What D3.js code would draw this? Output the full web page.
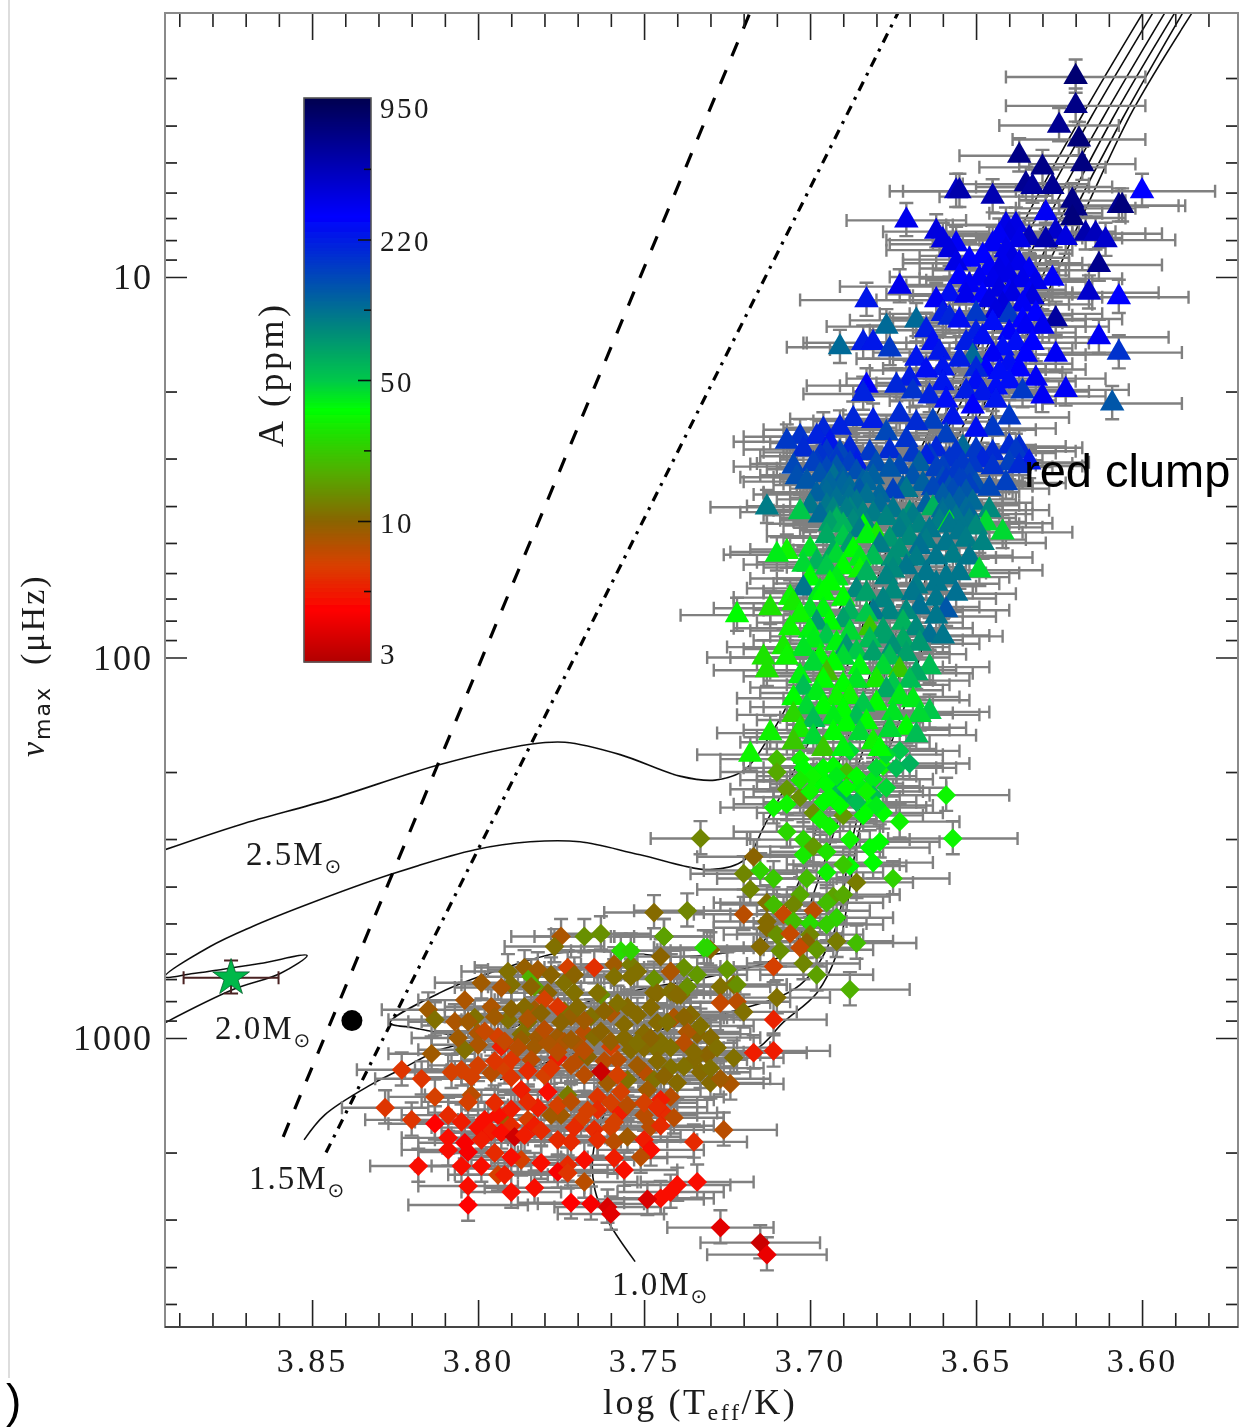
<!DOCTYPE html>
<html><head><meta charset="utf-8">
<script src="https://cdn.jsdelivr.net/npm/d3@7"></script>
<style>html,body{margin:0;padding:0;background:#fff;overflow:hidden}svg{display:block}</style>
</head><body>
<svg id="c" width="1241" height="1428"></svg>
<script>
// ---- axis values
const xMajor=[3.85,3.80,3.75,3.70,3.65,3.60];
const xMinor=[3.89,3.88,3.87,3.86,3.84,3.83,3.82,3.81,3.79,3.78,3.77,3.76,3.74,3.73,3.72,3.71,3.69,3.68,3.67,3.66,3.64,3.63,3.62,3.61,3.59,3.58];
const yMajor=[10,100,1000];
const yMinor=[3,4,5,6,7,8,9,20,30,40,50,60,70,80,90,200,300,400,500,600,700,800,900,2000,3000,4000,5000];
const ampTicks=[3,10,50,220,950];
const ampMinorPos=[5.5,22.4,105,457];
const ampStops=[3,4.7,6.9,10,17.9,35.6,50,84.5,129,280,950];
const ampColors=["#b00000","#ff0000","#d84000","#8a6400","#50b000","#00ff00","#00c84a","#008a7a","#0058a8","#0000ff","#000050"];
// ---- stars: [log Teff, numax, amplitude, error in log Teff]
const upperGiants=[
[3.620,2.98,750,.021],[3.620,3.55,650,.021],[3.625,4.0,600,.018],[3.619,4.35,720,.020],[3.637,4.8,650,.018],[3.630,5.15,650,.019],[3.618,5.05,680,.016],
[3.635,5.7,600,.019],[3.633,5.8,560,.017],[3.656,5.95,420,.020],[3.655,5.95,500,.017],[3.645,6.15,480,.016],[3.627,5.8,600,.018],[3.600,5.95,280,.022],
[3.621,6.3,650,.016],[3.620,6.6,650,.018],[3.621,7,700,.016],[3.607,6.5,600,.018],[3.606,6.5,700,.019],[3.671,7.1,320,.018],[3.629,6.8,300,.017],
[3.662,7.6,350,.016],[3.660,8,350,.017],[3.658,8.5,350,.019],[3.656,9.2,330,.016],[3.641,7.3,330,.018],[3.643,7.8,300,.020],[3.645,8.2,300,.018],[3.640,7.7,350,.019],
[3.637,8,330,.017],[3.638,7.3,340,.019],[3.634,7.9,450,.016],[3.629,8,500,.020],[3.626,7.6,400,.018],[3.623,7.9,350,.017],[3.617,7.7,500,.018],[3.614,7.7,450,.020],[3.611,8,400,.021],
[3.613,9.3,620,.019],[3.649,10.1,300,.018],[3.641,8.5,320,.020],[3.639,8.9,340,.017],[3.637,9.2,320,.019],[3.634,9.6,300,.018],[3.643,9.6,330,.020],[3.640,9.9,330,.018],[3.636,10.2,320,.019],[3.632,10.3,320,.017],
[3.643,10.8,340,.020],[3.639,11.1,340,.018],[3.634,11.1,300,.019],[3.646,11.5,340,.018],[3.642,11.8,360,.020],[3.627,10.1,290,.021],[3.616,11,400,.021],[3.607,11.3,280,.021],[3.673,10.6,320,.018],
[3.683,11.5,230,.020],[3.662,11.5,300,.018],[3.658,11.1,250,.019],[3.653,11.2,320,.017],[3.660,12.5,220,.019],[3.658,12.8,200,.018],[3.650,12.5,170,.020],[3.644,12.3,350,.018],[3.640,12.6,170,.019],
[3.633,11.3,350,.021],[3.626,12.9,550,.020],[3.635,13.5,300,.018],[3.613,14.4,300,.021],[3.607,15.8,180,.019],[3.609,21.5,130,.021],[3.626,16,300,.019],[3.635,16,280,.018],[3.633,14.9,280,.017],
[3.677,13.5,110,.018],[3.668,13,110,.020],[3.691,15.3,110,.016],[3.684,14.9,220,.018],[3.681,14.9,230,.020],[3.676,15.5,170,.018],[3.665,13.8,220,.017],[3.663,14.9,250,.019],[3.668,16.4,240,.018],[3.665,17.6,250,.017],
[3.661,15.8,230,.020],[3.660,17.4,240,.018],[3.651,16.2,110,.019],[3.645,16,300,.017],[3.642,15.4,260,.021],[3.638,14.9,260,.018],[3.640,16.9,250,.019],[3.653,14.9,220,.018],[3.648,14.4,250,.020],[3.647,17.5,280,.018],
[3.683,19.3,270,.018],[3.623,19.8,300,.019],[3.630,20.6,300,.019]];
const upperFill=[
[3.656,8.2,300,.020],[3.655,10,280,.021],[3.652,9,280,.020],[3.648,8.8,280,.019],[3.646,9.5,290,.021],[3.642,9.2,320,.020],[3.652,10.5,300,.019],[3.648,11.2,280,.021],[3.645,10.2,320,.020],[3.640,11,300,.019],[3.636,11.8,300,.021],[3.632,12.5,280,.020],
[3.655,13,250,.020],[3.650,14,220,.019],[3.645,13.2,260,.021],[3.640,14,290,.020],[3.636,13,280,.019],[3.630,13.5,310,.020],[3.655,16.5,220,.020],[3.650,17.5,200,.021],[3.643,17.8,260,.019],[3.637,17.5,280,.020],[3.632,18.5,300,.021],[3.670,18.5,220,.019],[3.660,19,240,.020],[3.650,18.9,250,.019],[3.640,18.8,260,.020]];
const clumpGiants=[
[3.707,27.1,170,.016],[3.703,26.3,180,.017],[3.696,25.2,200,.018],[3.698,26.3,210,.016],[3.694,27.3,230,.018],[3.691,24.9,210,.017],[3.687,23.6,200,.019],[3.684,20.3,210,.018],[3.681,23.9,220,.018],[3.674,19.3,200,.017],
[3.669,20,180,.018],[3.664,20.6,210,.019],[3.659,21.1,260,.017],[3.653,20,220,.018],[3.651,21.9,270,.019],[3.648,20.2,230,.018],[3.644,19.5,260,.019],[3.644,21.1,240,.018],[3.636,20,170,.020],
[3.673,23,190,.017],[3.668,24.2,190,.018],[3.663,24,160,.019],[3.657,23.4,230,.017],[3.650,25.2,250,.018],[3.645,25,170,.019],[3.640,23.4,170,.018],[3.640,27.9,190,.017],[3.637,28.1,190,.019],[3.634,30.7,230,.018],[3.640,30.9,160,.019],
[3.648,30.3,200,.018],[3.654,28.1,110,.017],[3.659,26.1,160,.018],[3.665,29.7,210,.017],[3.671,26.8,180,.018],[3.677,25.7,150,.019],[3.686,30.9,220,.018],[3.691,29,150,.017],[3.698,30.9,170,.018],[3.704,33.6,140,.017],[3.693,33.6,105,.018],
[3.681,33.6,120,.019],[3.676,32.1,130,.018],[3.669,33.6,135,.018],[3.659,34.3,170,.020],[3.655,34.3,160,.019],[3.663,35.9,150,.018],[3.675,36.6,160,.017],[3.685,36.6,130,.018],[3.698,37.3,120,.019],
[3.688,41,90,.018],[3.679,39.8,110,.017],[3.671,36.3,100,.018],[3.665,39.8,120,.019],[3.655,39.8,125,.018],[3.697,42.3,110,.017],[3.685,46.3,95,.018],[3.673,46.3,95,.019],[3.664,46.3,100,.018],[3.679,50.7,95,.017],[3.688,50.7,75,.018]];
const clumpFill=[
[3.702,28.4,190,.018],[3.695,28.9,170,.019],[3.688,28.2,200,.018],[3.682,29,170,.017],[3.676,28.7,190,.019],[3.669,29.3,170,.018],[3.662,28.4,200,.018],[3.656,29,180,.019],[3.650,28.5,170,.018],[3.645,29,190,.019],[3.638,28.7,170,.018],
[3.705,31.5,150,.018],[3.699,31,160,.019],[3.692,31.8,130,.018],[3.680,31,140,.017],[3.673,31.6,150,.019],[3.667,31,120,.018],[3.660,31.8,160,.018],[3.651,31.2,170,.019],[3.645,31.6,180,.018],[3.637,31.4,190,.019],
[3.701,34.5,130,.019],[3.690,35,115,.018],[3.683,34.8,115,.018],[3.672,36,125,.017],[3.666,35,120,.019],[3.657,36.6,145,.018],[3.652,35.5,160,.019],[3.646,36,150,.018],[3.641,34.8,160,.018],[3.695,37,110,.019],[3.688,38,105,.018],[3.679,37.5,115,.018],
[3.700,40,100,.019],[3.693,41,90,.018],[3.686,40,100,.017],[3.681,42,95,.018],[3.675,41,100,.019],[3.669,42.5,95,.018],[3.660,41,110,.018],[3.652,42,115,.019],[3.646,41,85,.018],[3.694,44.5,70,.019],[3.690,45,60,.018],[3.672,44,90,.018],[3.667,45,90,.017],[3.661,44,95,.019],[3.655,44.5,100,.018],
[3.695,48,65,.018],[3.690,48.5,50,.018],[3.683,48,38,.019],[3.676,49,75,.017],[3.670,48.5,85,.018],[3.665,49.5,95,.019],[3.659,50,100,.018],[3.653,49,95,.018],[3.648,50,90,.019],[3.700,52,42,.018],[3.692,54,45,.018],[3.685,55,40,.017],[3.675,55,80,.019],[3.668,55,95,.018],[3.657,54,95,.018],
[3.702,57,45,.018],[3.695,58,50,.019],[3.692,62,40,.018],[3.683,60,60,.018],[3.675,59,85,.017],[3.668,65,95,.018],[3.662,64,100,.019],[3.655,60,100,.018],[3.700,62,35,.018],[3.697,67,40,.017],[3.690,70,35,.018],[3.683,68,70,.018],[3.675,67,85,.019],[3.662,70,100,.018],[3.656,68,105,.018],
[3.705,72,30,.018],[3.700,75,42,.017],[3.696,75,38,.018],[3.688,76,60,.018],[3.683,77,50,.019],[3.676,76,90,.018],[3.671,76,85,.017],[3.662,78,100,.018],[3.700,85,38,.018],[3.695,88,50,.017],[3.688,86,45,.018],[3.682,90,55,.018],[3.677,88,70,.017],[3.672,90,65,.018],[3.667,92,75,.018],[3.660,88,100,.018]];
const clumpEdges=[
[3.697,29.6,180,.018],[3.692,30.2,170,.017],[3.688,31,160,.019],[3.695,32,150,.018],[3.686,32.6,140,.017],[3.697,33.2,135,.018],[3.690,34,125,.019],[3.684,34.6,120,.018],[3.694,35.2,115,.017],[3.688,36,110,.018],[3.696,36.8,115,.018],[3.683,37.6,105,.019],[3.692,38.4,105,.018],[3.686,39.2,100,.017],[3.695,40,100,.018],[3.689,41,95,.019],[3.684,42,90,.018],[3.692,43,80,.017],[3.687,44,85,.018],[3.683,45,85,.018],
[3.664,29.6,170,.017],[3.658,30.2,180,.018],[3.654,31,170,.016],[3.662,32,160,.018],[3.656,32.6,170,.017],[3.652,33.2,150,.018],[3.660,34,145,.016],[3.654,34.6,160,.018],[3.650,35.2,140,.017],[3.658,36,135,.018],[3.653,36.8,130,.016],[3.660,37.6,125,.018],[3.655,38.4,125,.017],[3.651,39.2,110,.018],[3.658,40,110,.016],[3.653,41,110,.018],[3.660,42,105,.017],[3.656,43,100,.018],[3.652,44,100,.017],[3.658,45,100,.018]];
const lowerGiants=[
[3.713,40.3,95,.017],[3.703,41.5,50,.018],[3.692,43.6,60,.017],[3.684,45.5,35,.018],[3.680,47.8,30,.017],[3.677,43,90,.018],[3.670,41.8,80,.018],[3.663,40.5,60,.019],[3.658,44.4,40,.018],[3.655,46.9,100,.019],[3.650,45.5,85,.020],[3.647,44.4,45,.020],[3.642,46.9,45,.021],
[3.707,52.8,33,.017],[3.710,53.7,40,.016],[3.693,52.8,65,.017],[3.687,52.2,35,.018],[3.698,56.2,60,.018],[3.690,57.9,35,.017],[3.681,54.6,55,.018],[3.673,52.2,80,.018],[3.667,51.2,105,.018],[3.662,54.6,100,.018],[3.652,54.6,100,.019],[3.649,59,45,.019],
[3.677,61.5,90,.018],[3.671,57.9,100,.018],[3.665,60,100,.018],[3.659,61.5,100,.019],[3.685,59,33,.017],[3.694,63.9,35,.017],[3.702,65.8,100,.017],[3.686,66.5,85,.018],[3.669,67.7,100,.018],[3.678,70.7,90,.018],[3.667,73.7,105,.018],[3.659,75.1,130,.019],[3.681,76,100,.017],[3.690,79.8,70,.018],
[3.706,69.6,33,.017],[3.712,74.2,28,.017],[3.703,77.4,33,.018],[3.722,77.4,36,.017],[3.696,67.7,36,.018],[3.694,81,35,.018],[3.682,83.8,22,.018],[3.706,83.8,33,.017],[3.698,81,75,.018],[3.672,81,60,.018],[3.668,83.8,85,.017],[3.664,87.5,105,.018],[3.678,84.8,70,.017],
[3.708,93.9,30,.017],[3.714,100,28,.017],[3.707,100,33,.017],[3.713,108,28,.016],[3.699,90.2,40,.018],[3.692,91.9,38,.017],[3.689,93.9,75,.018],[3.681,97.5,70,.018],[3.675,93.9,80,.017],[3.699,103.6,45,.017],[3.693,103.6,36,.018],[3.685,106,37,.017],[3.678,106,45,.018],[3.673,108,22,.017],[3.668,110,65,.017],[3.664,106,55,.018],
[3.695,110,20,.017],[3.702,120,55,.016],[3.680,114.7,30,.017],[3.677,121.9,65,.017],[3.698,124,40,.017],[3.705,128,36,.017],[3.692,128,33,.016],[3.688,127,33,.017],[3.684,133,50,.017],[3.680,132,36,.017],[3.673,127,40,.018],[3.669,129.5,40,.017],[3.664,139,50,.018],[3.667,141.5,45,.018],
[3.705,141.5,25,.017],[3.699,146,55,.017],[3.693,143.5,40,.016],[3.686,143.5,55,.017],[3.671,153,35,.018],[3.712,158,32,.016],[3.699,162,45,.017],[3.693,158,36,.017],[3.685,158,45,.017],[3.681,167,32,.017],[3.705,167,22,.016],[3.718,180,33,.016],[3.696,174,22,.017],[3.690,174,38,.017],[3.679,174,36,.017]];
const lowerFill=[
[3.702,95,42,.018],[3.697,100,36,.017],[3.690,100,45,.018],[3.686,97,50,.017],[3.676,100,55,.018],[3.671,98,70,.018],[3.703,112,38,.017],[3.696,115,36,.018],[3.690,118,36,.017],[3.686,115,42,.018],[3.675,118,50,.017],[3.670,115,55,.018],
[3.701,135,45,.017],[3.696,135,36,.018],[3.690,138,36,.017],[3.675,140,42,.018],[3.703,155,30,.017],[3.689,150,36,.018],[3.683,148,36,.017],[3.676,155,45,.018],[3.668,160,55,.018]];
const redGiantDiamonds=[
[3.673,176,50,.018],[3.659,230,33,.019],[3.657,299,33,.0195],[3.673,270,32,.018],[3.710,185,20,.017],[3.710,200,17,.017],[3.707,222,15,.017],[3.711,248,33,.016],[3.707,243,33,.016],[3.703,233,14,.017],[3.699,256,14,.017],[3.697,266,33,.017],[3.694,278,33,.016],
[3.703,185,33,.017],[3.697,205,36,.017],[3.693,193,36,.018],[3.688,176,45,.017],[3.689,200,20,.017],[3.692,216,55,.017],[3.690,232,60,.017],[3.698,212,36,.018],[3.694,232,36,.017],[3.685,218,38,.018],[3.681,209,40,.018],[3.678,193,33,.018],[3.681,230,55,.017],[3.678,256,36,.018],[3.682,248,36,.017],[3.684,260,36,.018],[3.690,260,15,.017],
[3.707,287,25,.016],[3.702,301,25,.017],[3.702,330,30,.016],[3.699,314,15,.017],[3.695,324,28,.017],[3.688,301,33,.018],[3.679,305,36,.018],[3.682,316,36,.018],[3.681,346,36,.018],[3.688,353,36,.017],[3.690,350,22,.017],[3.695,367,32,.017],[3.701,381,20,.017],[3.675,381,24,.017],[3.686,390,12,.017],
[3.717,334,10,.017],[3.720,370,13,.016],[3.715,363,24,.017],[3.711,381,22,.017],[3.718,407,13,.016],[3.733,299,13,.015],[3.703,420,17,.017],[3.713,441,11,.016],[3.711,446,20,.016],[3.705,446,13,.016],[3.693,425,16,.017],[3.690,420,17,.017],[3.695,441,20,.017]];
const brightGreenFill=[
[3.702,195,36,.018],[3.699,205,33,.017],[3.696,195,36,.018],[3.695,215,36,.017],[3.692,205,40,.018],[3.689,220,36,.017],[3.686,205,36,.018],[3.683,225,33,.017],[3.680,195,45,.018],[3.677,220,45,.018],[3.700,225,33,.017],[3.696,240,36,.018],[3.691,245,36,.017],[3.686,240,55,.018],[3.680,245,40,.017],[3.703,210,30,.018],[3.677,180,45,.017],[3.674,195,55,.018],[3.670,190,60,.018]];
const subgiantsUpper=[
[3.708,473,7.5,.016],[3.699,463,8,.017],[3.747,468,10.5,.015],[3.737,463,13,.016],[3.720,473,8,.015],[3.705,494,20,.016],[3.700,500,26,.017],[3.692,483,24,.017],[3.695,503,23,.017],[3.713,494,10.5,.016],[3.713,513,10.5,.016],[3.710,535,14,.016],[3.706,532,7.5,.016],[3.700,535,13,.016],
[3.744,541,14,.015],[3.692,557,12,.017],[3.686,563,20,.018],[3.701,560,10,.016],[3.715,575,10.5,.016],[3.703,579,7.5,.017],[3.709,590,14,.016],[3.698,586,15,.017],[3.732,579,26,.015],[3.730,586,10,.016],[3.745,611,10,.015],[3.711,649,7,.016],[3.702,637,13,.017],[3.742,669,8,.015],[3.738,653,14,.015],[3.725,661,15,.015],[3.734,682,15,.015],
[3.698,682,16,.017],[3.727,733,11,.015],[3.723,724,11,.016],[3.722,724,14,.015],[3.688,746,18,.018],[3.747,761,10.5,.015],[3.741,761,10,.015],[3.739,770,10.5,.015],[3.727,808,7.5,.015],[3.722,803,8,.016],[3.720,854,11,.016],[3.710,783,11,.016],[3.741,884,8.5,.015],[3.736,869,10.5,.015],[3.711,895,5.8,.016],[3.711,1081,5.5,.017],
[3.783,733,16,.014],[3.774,716,11,.014],[3.763,770,14,.014],[3.757,590,26,.015],[3.784,868,16,.016],[3.774,850,11,.015],[3.759,641,9,.014],[3.754,641,12,.015],[3.754,590,24,.015],[3.747,700,14,.015],[3.775,541,8.5,.015],[3.777,575,11,.015],[3.768,541,14,.015],[3.763,532,14,.015],[3.744,541,16,.015],[3.731,579,25,.016]];
const subgiantsCore=[
[3.791,669,11,.014],[3.786,653,9.5,.015],[3.799,716,9,.014],[3.784,690,18,.014],[3.782,661,9,.015],[3.778,682,10,.014],[3.773,653,7,.015],[3.771,682,10,.014],[3.765,653,6.2,.015],[3.759,690,11,.015],[3.754,690,11,.014],[3.752,669,11,.015],[3.742,669,8.5,.015],[3.737,733,14,.016],
[3.815,843,9,.014],[3.813,895,11,.014],[3.804,795,8.5,.014],[3.807,906,8.5,.014],[3.801,884,11,.014],[3.803,906,9,.014],[3.790,724,11,.015],[3.793,737,8.5,.014],[3.784,733,10,.015],[3.779,761,10,.015],[3.771,761,11,.015],[3.764,761,11,.015],[3.746,761,10.5,.016],[3.742,754,11,.015],[3.740,770,10.5,.015],
[3.755,828,10.5,.015],[3.760,860,8.5,.016],[3.766,879,11,.015],[3.776,828,6.5,.014],[3.783,843,9,.015],[3.786,828,10.5,.015],[3.791,895,11,.014],[3.796,828,8.5,.014],[3.785,906,11,.015],[3.772,879,9.5,.015],[3.780,793,7,.015],[3.741,884,8.5,.016],[3.736,869,10.5,.016],[3.756,922,10.5,.015],[3.746,912,10.5,.016],
[3.734,977,10,.016],[3.737,964,8.5,.016],[3.730,998,10.5,.015],[3.750,971,10.5,.016],[3.745,1024,11,.016],[3.800,971,8.5,.014],[3.794,993,7,.015],[3.787,977,11,.015],[3.782,993,9,.015],[3.776,993,9,.016],[3.774,1024,8.5,.016],[3.768,964,8,.015],[3.765,993,10.5,.016],
[3.800,1042,8.5,.014],[3.793,1054,5.5,.014],[3.787,1011,9.5,.015],[3.783,1054,9,.015],[3.779,1030,8.5,.015],[3.770,1042,8.5,.015],[3.760,1054,7,.016],[3.750,1061,10.5,.016],[3.746,1074,11,.016],[3.731,1107,10,.016],[3.738,1030,8,.016],[3.717,1093,5.5,.016],[3.723,1127,11,.015],[3.804,1074,11,.014],[3.814,1100,9,.013],
[3.823,1212,6.5,.0135],[3.817,1280,6.5,.014],[3.828,1525,6.5,.013],[3.820,1641,6.5,.014],[3.813,1428,7,.014],[3.805,1212,7,.014],[3.802,1268,7,.015],[3.796,1236,8,.014],[3.792,1198,7,.015],[3.790,1141,6.5,.015],[3.784,1141,8,.015],[3.780,1253,7,.015],[3.776,1127,5.5,.015],[3.770,1141,8,.015],
[3.767,1120,10,.016],[3.761,1312,9,.016],[3.758,1141,8,.015],[3.754,1074,10.5,.016],[3.750,1225,8,.016],[3.755,1288,11,.016],[3.747,1288,11,.016],[3.742,1198,11,.016],[3.740,1312,10.5,.016],[3.742,1428,8,.016],[3.730,1312,10.5,.016],[3.724,1320,8.5,.016],[3.735,1141,10.5,.016],
[3.749,1368,9,.016],[3.757,1385,7,.015],[3.764,1428,6.5,.015],[3.773,1411,12,.015],[3.787,1368,5.5,.015],[3.779,1385,5,.015],[3.782,1525,5.5,.015],[3.785,1472,6,.015],[3.802,1411,8,.014],[3.803,1472,7,.014],[3.745,1454,5.5,.016],[3.744,1575,6,.016],[3.748,1712,8,.016],[3.750,1595,8,.016],
[3.757,1565,5.5,.015],[3.759,1662,7,.015],[3.764,1545,6,.015],[3.769,1641,7,.015],[3.775,1595,9,.015],[3.778,1595,9,.015],[3.785,1641,7,.015],[3.792,1641,9,.014],[3.794,1595,5,.014],[3.798,1641,5,.014],[3.805,1662,5.5,.014],[3.809,1595,6,.014],[3.813,1680,4.7,.014]];
const subgiantsFill=[
[3.795,880,9,.015],[3.790,840,10,.014],[3.785,890,8.5,.015],[3.781,860,10,.016],[3.775,910,10,.015],[3.770,830,10.5,.015],[3.768,900,9,.016],[3.762,850,10,.015],[3.758,810,11,.015],[3.752,870,10.5,.016],[3.748,830,10.5,.015],[3.743,910,11,.016],[3.738,880,10,.015],[3.733,930,11,.016],
[3.806,1000,9,.014],[3.798,960,7.5,.015],[3.792,1020,7.5,.014],[3.788,1060,8,.015],[3.780,950,8,.016],[3.776,1090,8,.015],[3.772,1010,9,.015],[3.768,1080,8,.016],[3.763,960,10,.015],[3.760,1020,9.5,.016],[3.756,1000,10.5,.015],[3.752,1030,11,.016],[3.748,1000,10,.015],[3.742,1060,11,.016],[3.735,1090,10.5,.015],[3.728,1060,11,.016],
[3.808,1230,7,.014],[3.800,1180,7,.015],[3.795,1150,6.5,.014],[3.790,1270,6.5,.015],[3.785,1220,6,.015],[3.778,1200,6.5,.016],[3.772,1180,8,.015],[3.768,1250,8,.015],[3.762,1150,8,.016],[3.758,1250,7,.015],[3.752,1180,9,.015],[3.746,1150,10.5,.016],[3.744,1260,10,.015],[3.738,1190,11,.016],[3.733,1230,10.5,.015],[3.730,1200,11,.016],[3.727,1280,9,.015],
[3.795,1480,6,.014],[3.790,1540,5.5,.015],[3.776,1500,7,.015],[3.772,1470,8,.015],[3.767,1550,7,.016],[3.760,1480,7,.015],[3.755,1500,8,.015],[3.750,1480,7,.016],[3.746,1520,6,.015],[3.771,1720,6,.015],[3.765,1740,6,.016],[3.760,1720,7,.015],[3.745,1700,6,.016],[3.741,1620,8,.015],[3.783,1700,5.5,.015],[3.800,1720,5,.014],[3.796,1760,5.5,.015],[3.790,1700,6,.015],
[3.763,1225,3.5,.015]];
const subgiantsLower=[
[3.809,1830,5,.014],[3.804,1885,4.5,.014],[3.809,1968,5,.014],[3.803,1993,4.5,.015],[3.799,1852,5.5,.014],[3.795,2005,6,.014],[3.793,1776,5,.015],[3.789,1818,3.6,.015],[3.786,1800,5.5,.015],[3.781,1752,6,.015],[3.776,1852,6,.015],[3.772,1875,6,.015],[3.764,1852,6,.016],[3.759,1875,8,.016],[3.755,1818,9,.016],[3.750,1852,5.5,.016],[3.748,1968,5,.016],[3.751,2055,8,.016],
[3.768,2091,5,.015],[3.759,2068,5.5,.016],[3.756,2222,5,.016],[3.773,2155,6,.015],[3.776,2248,4.5,.015],[3.773,2262,6.5,.015],[3.781,2130,5,.015],[3.787,2091,7,.015],[3.790,2055,5,.015],[3.799,2170,5,.015],[3.805,2170,5,.014],[3.818,2170,5,.0145],[3.794,2288,7,.015],[3.792,2288,5.5,.015],
[3.768,2390,8,.016],[3.803,2448,5,.015],[3.790,2540,5,.015],[3.783,2476,5,.015],[3.735,1875,6,.016],[3.726,1744,8,.016],[3.734,2390,5,.017],[3.740,2434,5,.016],[3.742,2540,5,.016],[3.745,2638,5,.016],[3.749,2655,3.8,.017],[3.772,2710,4.7,.016],[3.766,2728,4.5,.016],[3.761,2780,3.8,.016],[3.760,2900,4,.016],[3.803,2746,4.7,.018],[3.727,3150,4,.016],[3.715,3450,3.5,.018],[3.713,3710,4.2,.018]];
// ---- evolutionary tracks: [log Teff, numax]
const track25=[[3.8943,320],[3.8717,275],[3.8446,236],[3.8114,191],[3.7843,169],[3.7738,167],[3.7572,180],[3.7392,205],[3.7286,210],[3.7196,197],[3.7120,160],[3.7060,129.5],[3.6985,96],[3.6880,66.5],[3.6741,38.6],[3.6593,20.6],[3.6367,7.5],[3.6187,3.85],[3.5997,2.02]];
const track20=[[3.8943,912],[3.8738,746],[3.8596,677],[3.8515,607],[3.8657,637],[3.8858,677],[3.8943,690],[3.8807,575],[3.8681,510],[3.8515,446],[3.8265,372],[3.8009,320],[3.7843,305],[3.7693,305],[3.7512,330],[3.7301,361],[3.7196,340],[3.7136,275],[3.7030,185],[3.6880,101.6],[3.6789,59],[3.6699,34],[3.6548,19.3],[3.6337,7.5],[3.6157,3.85],[3.5967,2.02]];
const track17=[[3.8033,1000],[3.8196,940],[3.8265,912],[3.8114,760],[3.7934,661],[3.7753,597],[3.7581,594],[3.7401,612],[3.7181,579],[3.7130,545],[3.7030,383],[3.6979,278],[3.6910,185],[3.6834,122],[3.6759,70.7],[3.6669,36.3],[3.6512,18.6],[3.6301,7.5],[3.6120,3.85],[3.5931,2.02]];
const track15=[[3.8524,1852],[3.8461,1590],[3.8325,1330],[3.8235,1212],[3.8114,1074],[3.7994,1011],[3.7753,843],[3.7512,746],[3.7271,680],[3.7060,586],[3.6985,407],[3.6925,283],[3.6849,185],[3.6789,122],[3.6714,70.7],[3.6623,36.3],[3.6473,18.6],[3.6262,7.5],[3.6090,3.85],[3.5901,2.02]];
const track12=[[3.7934,1288],[3.7633,1040],[3.7271,870],[3.7030,725],[3.6925,519],[3.6880,320],[3.6819,197],[3.6744,122],[3.6669,70.7],[3.6578,36.3],[3.6443,18.6],[3.6232,7.5],[3.6060,3.85],[3.5877,2.02]];
const track10=[[3.7527,3870],[3.7611,3007],[3.7648,2508],[3.7651,1945],[3.7572,1368],[3.7392,1176],[3.7166,1074],[3.7081,910],[3.6979,760],[3.6919,600],[3.6889,452],[3.6849,278],[3.6774,185],[3.6699,122],[3.6623,70.7],[3.6533,36.3],[3.6413,18.6],[3.6337,13.8],[3.6157,6.27],[3.6027,3.64],[3.5849,2.02]];
const edgeDashed=[[3.8587,1818],[3.7181,2.02]];
const edgeDashDot=[[3.8458,2000],[3.6735,2.02]];
const starPoint=[3.8744,695,48,.0143];
const sunPoint=[3.838,900];

const svg=d3.select('#c');
const SERIF='"Liberation Serif","DejaVu Serif",serif';
const x=d3.scaleLinear().domain([3.8943,3.5711]).range([165,1238]);
const y=d3.scaleLog().domain([2.024,5748]).range([13,1327]);
const ampY=d3.scaleLog().domain(ampTicks).range([662,521,380,239.5,98]);
const color=d3.scaleLog().domain(ampStops).range(ampColors).interpolate(d3.interpolateRgb).clamp(true);

const defs=svg.append('defs');
defs.append('clipPath').attr('id','plot').append('rect').attr('x',165).attr('y',13).attr('width',1073).attr('height',1314);
defs.append('filter').attr('id','soft').attr('x','-2%').attr('y','-2%').attr('width','104%').attr('height','104%')
  .append('feGaussianBlur').attr('stdDeviation',0.55);

const root=svg.append('g').attr('filter','url(#soft)');
root.append('line').attr('x1',9).attr('x2',9).attr('y1',0).attr('y2',1378).attr('stroke','#ddd').attr('stroke-width',2);

const plot=root.append('g').attr('clip-path','url(#plot)');
const line=d3.line().x(d=>x(d[0])).y(d=>y(d[1]));
const curve=d3.line().x(d=>x(d[0])).y(d=>y(d[1])).curve(d3.curveCatmullRom.alpha(0.5));
[track25,track20,track17,track15,track12,track10].forEach(t=>{
  plot.append('path').attr('d',curve(t)).attr('fill','none').attr('stroke','#111').attr('stroke-width',1.6);
});
plot.append('path').attr('d',line(edgeDashed)).attr('fill','none').attr('stroke','#000').attr('stroke-width',3.2).attr('stroke-dasharray','15,15');
plot.append('path').attr('d',line(edgeDashDot)).attr('fill','none').attr('stroke','#000').attr('stroke-width',3.2).attr('stroke-dasharray','10,7,3,7');

// error bars
const triangles=[...upperGiants,...upperFill,...clumpGiants,...clumpEdges,...clumpFill,...lowerGiants,...lowerFill].sort((a,b)=>a[1]-b[1]);
const diamonds=[...redGiantDiamonds,...brightGreenFill,...subgiantsUpper,...subgiantsCore,...subgiantsFill,...subgiantsLower];
const all=[...triangles,...diamonds];
const nuErr=0.10;
function errBars(g,data,stroke,w){
  const eb=g.selectAll('g.e').data(data).join('g').attr('class','e').attr('stroke',stroke).attr('stroke-width',w).attr('fill','none');
  eb.append('path').attr('d',d=>{
    const a=x(d[0]+d[3]),b=x(d[0]-d[3]),m=y(d[1]);
    return `M${a},${m}H${b}M${a},${m-6.5}V${m+6.5}M${b},${m-6.5}V${m+6.5}`;});
  eb.append('path').attr('d',d=>{
    const a=y(d[1]*(1-nuErr)),b=y(d[1]*(1+nuErr)),m=x(d[0]);
    return `M${m},${a}V${b}M${m-7},${a}H${m+7}M${m-7},${b}H${m+7}`;});
}
errBars(plot.append('g'),all,'#808080',2.4);
errBars(plot.append('g'),[starPoint],'#4a2020',2);

plot.append('g').selectAll('path').data(diamonds).join('path')
  .attr('d',d3.symbol(d3.symbolSquare,195)).attr('fill',d=>color(d[2]))
  .attr('transform',d=>`translate(${x(d[0])},${y(d[1])}) rotate(45)`);
plot.append('g').selectAll('path').data(triangles).join('path')
  .attr('d',d3.symbol(d3.symbolTriangle,260)).attr('fill',d=>color(d[2]))
  .attr('transform',d=>`translate(${x(d[0])},${y(d[1])})`);
plot.append('path').attr('d',d3.symbol(d3.symbolStar,420)).attr('fill','#00b84a').attr('stroke','#0a5a2a').attr('stroke-width',.8)
  .attr('transform',`translate(${x(starPoint[0])},${y(starPoint[1])})`);
plot.append('circle').attr('cx',x(sunPoint[0])).attr('cy',y(sunPoint[1])).attr('r',10.5).attr('fill','#000');

// axes
function styleTicks(g,stroke,w){g.select('.domain').remove();g.selectAll('line').attr('stroke',stroke).attr('stroke-width',w);g.selectAll('text').remove();}
const ax=root.append('g');
[[d3.axisBottom,13,28],[d3.axisTop,1327,28]].forEach(([a,yy])=>{
  ax.append('g').attr('transform',`translate(0,${yy})`).call(a(x).tickValues(xMajor).tickSize(27)).call(styleTicks,'#222',1.6);
  ax.append('g').attr('transform',`translate(0,${yy})`).call(a(x).tickValues(xMinor).tickSize(14)).call(styleTicks,'#222',1.6);
});
[[d3.axisRight,165],[d3.axisLeft,1238]].forEach(([a,xx])=>{
  ax.append('g').attr('transform',`translate(${xx},0)`).call(a(y).tickValues(yMajor).tickSize(22)).call(styleTicks,'#222',1.5);
  ax.append('g').attr('transform',`translate(${xx},0)`).call(a(y).tickValues(yMinor).tickSize(12)).call(styleTicks,'#222',1.7);
});
ax.append('rect').attr('x',165).attr('y',13).attr('width',1073).attr('height',1314).attr('fill','none').attr('stroke','#8a8a8a').attr('stroke-width',2);
ax.append('line').attr('x1',165).attr('x2',1238).attr('y1',1327).attr('y2',1327).attr('stroke','#444').attr('stroke-width',2);

function labelStyle(g,size,ls){g.select('.domain').remove();g.selectAll('text').attr('font-family',SERIF).attr('font-size',size).attr('fill','#1a1a1a').attr('letter-spacing',ls);}
root.append('g').attr('transform','translate(0,1327)').call(d3.axisBottom(x).tickValues(xMajor).tickSize(0).tickPadding(21).tickFormat(d3.format('.2f'))).call(labelStyle,34,3);
root.append('g').attr('transform','translate(165,0)').call(d3.axisLeft(y).tickValues(yMajor).tickSize(0).tickPadding(12).tickFormat(d3.format('d'))).call(labelStyle,36,2);

// colour bar
const cb=root.append('g');
cb.selectAll('rect').data(d3.range(98,662)).join('rect').attr('x',304).attr('width',67).attr('y',d=>d).attr('height',1.5).attr('fill',d=>color(ampY.invert(d)));
cb.append('rect').attr('x',304).attr('y',98).attr('width',67).attr('height',564).attr('fill','none').attr('stroke','#555').attr('stroke-width',1.6);
cb.append('g').attr('transform','translate(371,0)').call(d3.axisLeft(ampY).tickValues(ampTicks.slice(1,-1)).tickSize(13)).call(styleTicks,'#111',1.6);
cb.append('g').attr('transform','translate(371,0)').call(d3.axisLeft(ampY).tickValues(ampMinorPos).tickSize(7)).call(styleTicks,'#111',1.6);
const cbl=cb.append('g').attr('transform','translate(371,0)').call(d3.axisRight(ampY).tickValues(ampTicks).tickSize(0).tickPadding(9).tickFormat(d3.format('d'))).call(labelStyle,29,2.5);
cbl.selectAll('text').attr('transform',d=>`translate(0,${d===950?10:d===3?-8:2})`);

// text labels
function mass(xp,yp,txt){
  const t=root.append('text').attr('x',xp).attr('y',yp).attr('font-family',SERIF).attr('font-size',33).attr('fill','#1a1a1a').attr('letter-spacing',2);
  t.append('tspan').text(txt);
  t.append('tspan').attr('dy',8).attr('font-size',20).attr('font-family','"DejaVu Sans",sans-serif').text('\u2299');
}
mass(246,865,'2.5M');mass(215,1039,'2.0M');mass(249,1189,'1.5M');mass(612,1295,'1.0M');

const xl=root.append('text').attr('x',603).attr('y',1414).attr('font-family',SERIF).attr('font-size',36).attr('fill','#1a1a1a').attr('letter-spacing',2.6);
xl.append('tspan').text('log  (T');
xl.append('tspan').attr('dy',6).attr('font-size',24).text('eff');
xl.append('tspan').attr('dy',-6).text('/K)');
const yl=root.append('text').attr('transform','translate(44,757) rotate(-90)').attr('font-family',SERIF).attr('font-size',34).attr('fill','#1a1a1a').attr('letter-spacing',2);
yl.append('tspan').attr('font-style','italic').text('\u03BD');
yl.append('tspan').attr('dy',6).attr('font-size',22).attr('font-family','"DejaVu Sans",sans-serif').text('max');
yl.append('tspan').attr('dy',-6).text('\u00A0\u00A0(\u03BCHz)');
root.append('text').attr('transform','translate(283,447) rotate(-90)').attr('font-family',SERIF).attr('font-size',36).attr('fill','#1a1a1a').attr('letter-spacing',3.5).text('A (ppm)');

svg.append('text').attr('x',1024).attr('y',487).attr('font-family','"Liberation Sans",Arial,sans-serif').attr('font-size',47).attr('fill','#000').text('red clump');
svg.append('text').attr('x',6).attr('y',1417).attr('font-family','"Liberation Sans",Arial,sans-serif').attr('font-size',46).attr('fill','#000').text(')');
</script>
</body></html>
